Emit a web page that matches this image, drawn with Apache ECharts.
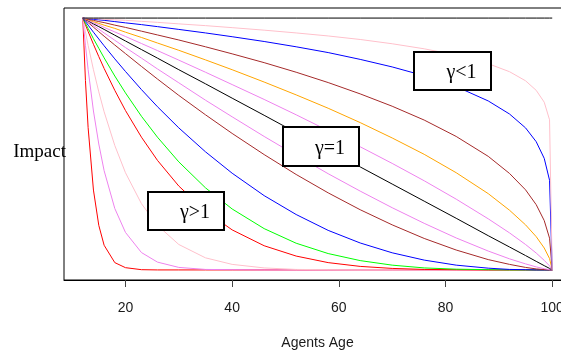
<!DOCTYPE html>
<html>
<head>
<meta charset="utf-8">
<script src="https://cdn.jsdelivr.net/npm/echarts@6/dist/echarts.min.js"></script>
<style>
  html, body { margin: 0; padding: 0; background: #fff; }
  #chart { width: 561px; height: 356px; }
</style>
</head>
<body>
<div id="chart"></div>
<script>
// ages on the x axis (shared by every curve)
const ages = [12, 12.5, 13, 14, 15, 16, 18, 20, 23, 26, 30, 35, 40, 46, 52, 58, 64, 70, 76, 82, 88, 92, 95, 97, 98.5, 99.5, 100];
const tickAges = [20, 40, 60, 80, 100];

// impact curves (bottom-left to top-right)
const red1    = [1, 0.752, 0.565, 0.317, 0.177, 0.098, 0.029, 0.009, 0.001, 0, 0, 0, 0, 0, 0, 0, 0, 0, 0, 0, 0, 0, 0, 0, 0, 0, 0];
const violet2 = [1, 0.892, 0.796, 0.631, 0.5, 0.394, 0.244, 0.149, 0.069, 0.031, 0.01, 0.002, 0.001, 0, 0, 0, 0, 0, 0, 0, 0, 0, 0, 0, 0, 0, 0];
const pink3   = [1, 0.945, 0.892, 0.795, 0.707, 0.628, 0.494, 0.386, 0.263, 0.177, 0.101, 0.048, 0.022, 0.008, 0.002, 0.001, 0, 0, 0, 0, 0, 0, 0, 0, 0, 0, 0];
const red4    = [1, 0.973, 0.947, 0.896, 0.847, 0.8, 0.713, 0.633, 0.527, 0.435, 0.333, 0.234, 0.159, 0.096, 0.055, 0.029, 0.014, 0.006, 0.002, 0.001, 0, 0, 0, 0, 0, 0, 0];
const green5  = [1, 0.979, 0.959, 0.918, 0.88, 0.842, 0.77, 0.703, 0.61, 0.527, 0.429, 0.326, 0.242, 0.164, 0.106, 0.065, 0.037, 0.019, 0.008, 0.003, 0.001, 0, 0, 0, 0, 0, 0];
const blue6   = [1, 0.986, 0.972, 0.944, 0.917, 0.89, 0.838, 0.788, 0.716, 0.648, 0.564, 0.469, 0.384, 0.295, 0.22, 0.157, 0.107, 0.068, 0.039, 0.019, 0.007, 0.002, 0.001, 0, 0, 0, 0];
const brown7  = [1, 0.991, 0.982, 0.964, 0.946, 0.928, 0.893, 0.859, 0.808, 0.758, 0.693, 0.616, 0.542, 0.458, 0.379, 0.306, 0.239, 0.179, 0.125, 0.079, 0.041, 0.022, 0.01, 0.004, 0.0015, 0.0003, 0];
const violet8 = [1, 0.993, 0.985, 0.971, 0.956, 0.941, 0.912, 0.883, 0.841, 0.798, 0.743, 0.674, 0.608, 0.53, 0.455, 0.382, 0.313, 0.247, 0.185, 0.127, 0.075, 0.044, 0.024, 0.012, 0.005, 0.001, 0];
const black9  = [1, 0.994, 0.989, 0.977, 0.966, 0.955, 0.932, 0.909, 0.875, 0.841, 0.795, 0.739, 0.682, 0.614, 0.545, 0.477, 0.409, 0.341, 0.273, 0.205, 0.136, 0.091, 0.057, 0.034, 0.017, 0.006, 0];
const violet10 = [1, 0.996, 0.991, 0.982, 0.973, 0.963, 0.945, 0.927, 0.899, 0.871, 0.833, 0.785, 0.736, 0.677, 0.616, 0.553, 0.489, 0.423, 0.354, 0.281, 0.203, 0.147, 0.101, 0.067, 0.038, 0.016, 0];
const orange11 = [1, 0.997, 0.993, 0.986, 0.979, 0.972, 0.959, 0.944, 0.923, 0.901, 0.872, 0.834, 0.795, 0.746, 0.695, 0.642, 0.585, 0.524, 0.459, 0.386, 0.303, 0.237, 0.179, 0.132, 0.087, 0.045, 0];
const brown12  = [1, 0.998, 0.995, 0.991, 0.986, 0.982, 0.972, 0.963, 0.948, 0.933, 0.913, 0.886, 0.858, 0.823, 0.785, 0.744, 0.699, 0.65, 0.595, 0.53, 0.451, 0.383, 0.318, 0.259, 0.196, 0.126, 0];
const blue13   = [1, 0.999, 0.998, 0.995, 0.993, 0.991, 0.986, 0.981, 0.974, 0.966, 0.955, 0.941, 0.926, 0.907, 0.886, 0.863, 0.836, 0.806, 0.771, 0.728, 0.671, 0.619, 0.564, 0.509, 0.443, 0.356, 0];
const pink14   = [1, 0.999, 0.999, 0.998, 0.997, 0.995, 0.993, 0.991, 0.987, 0.983, 0.977, 0.97, 0.962, 0.952, 0.941, 0.929, 0.915, 0.898, 0.878, 0.853, 0.819, 0.787, 0.751, 0.713, 0.666, 0.596, 0];
const topLine  = [1, 1, 1, 1, 1, 1, 1, 1, 1, 1, 1, 1, 1, 1, 1, 1, 1, 1, 1, 1, 1, 1, 1, 1, 1, 1, 1];

const curves = [
  { ys: red1, color: '#ff0000' },
  { ys: violet2, color: '#ee82ee' },
  { ys: pink3, color: '#ffc0cb' },
  { ys: red4, color: '#ff0000' },
  { ys: green5, color: '#00ff00' },
  { ys: blue6, color: '#0000ff' },
  { ys: brown7, color: '#a52a2a' },
  { ys: violet8, color: '#ee82ee' },
  { ys: black9, color: '#000000' },
  { ys: violet10, color: '#ee82ee' },
  { ys: orange11, color: '#ffa500' },
  { ys: brown12, color: '#a52a2a' },
  { ys: blue13, color: '#0000ff' },
  { ys: pink14, color: '#ffc0cb' },
  { ys: topLine, color: '#000000' }
];

const chart = echarts.init(document.getElementById('chart'));

// legend-like boxes with the gamma labels
function labelBox(x, y, w, h, text) {
  return [
    { type: 'rect', z: 100, shape: { x: x, y: y, width: w, height: h },
      style: { fill: '#fff', stroke: '#000', lineWidth: 2 } },
    { type: 'text', z: 101, x: x + w / 2 + 9, y: y + h / 2 + 2,
      style: { text: text, fill: '#000', font: '20px "Liberation Serif"', align: 'center', verticalAlign: 'middle' } }
  ];
}

const option = {
  animation: false,
  grid: {
    left: 64, top: 8, right: -10, bottom: 76,
    outerBoundsMode: 'none',
    containLabel: false,
    show: true, borderColor: '#000', borderWidth: 1
  },
  xAxis: {
    type: 'value',
    min: 8.48,
    max: 103.52,
    name: 'Agents Age',
    nameLocation: 'middle',
    nameGap: 56,
    nameTextStyle: { fontFamily: 'Liberation Sans', fontSize: 14, color: '#1a1a1a' },
    axisLine: { show: true, onZero: false, lineStyle: { color: '#000' } },
    axisTick: { show: true, length: 7, lineStyle: { color: '#444' }, customValues: tickAges },
    axisLabel: { margin: 21, fontFamily: 'Liberation Sans', fontSize: 14, color: '#1a1a1a', customValues: tickAges },
    splitLine: { show: false }
  },
  yAxis: {
    type: 'value',
    min: -0.04,
    max: 1.04,
    axisLine: { show: false },
    axisTick: { show: false },
    axisLabel: { show: false },
    splitLine: { show: false }
  },
  series: curves.map(c => ({
    type: 'line',
    data: ages.map((a, i) => [a, c.ys[i]]),
    showSymbol: false,
    lineStyle: { color: c.color, width: 1 },
    silent: true
  })),
  graphic: [
    { type: 'text', x: 66, y: 152,
      style: { text: 'Impact', fill: '#000', font: '19px "Liberation Serif"', align: 'right', verticalAlign: 'middle' } },
    ...labelBox(414, 52, 77, 38, 'γ<1'),
    ...labelBox(283, 127, 76, 39, 'γ=1'),
    ...labelBox(148, 192, 76, 38, 'γ>1')
  ]
};

chart.setOption(option);
</script>
</body>
</html>
